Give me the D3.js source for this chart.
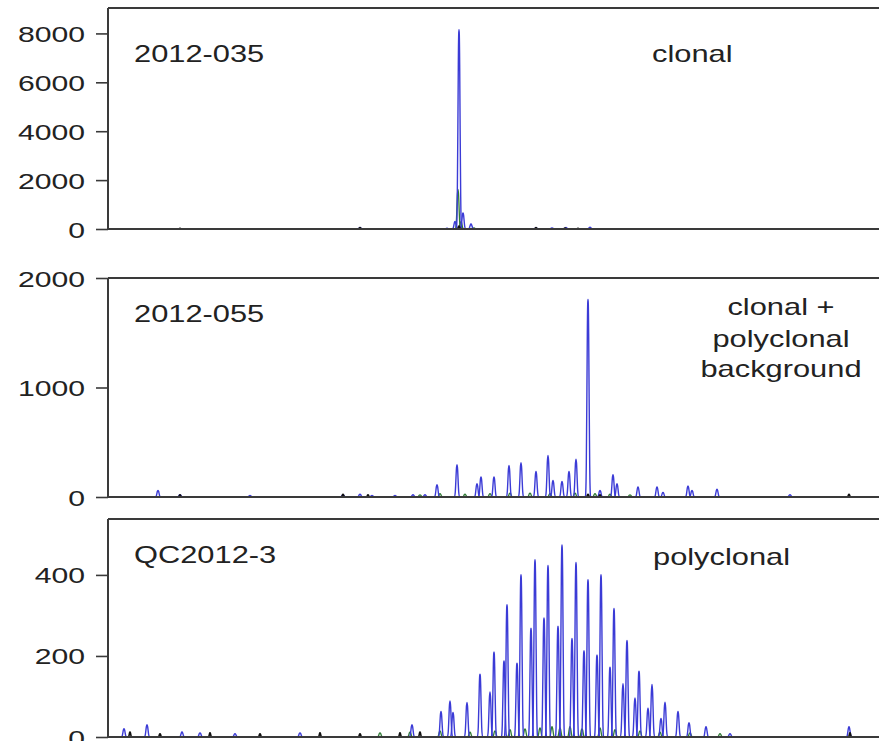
<!DOCTYPE html>
<html><head><meta charset="utf-8">
<script src="https://cdn.jsdelivr.net/npm/d3@7"></script>
<style>body{margin:0;background:#fff}svg{display:block}</style>
</head><body><svg id="chart" width="879" height="741"></svg>
<script>
// ---------- DATA ----------
const xDomain = [0, 771];                       // fragment position (arbitrary scan units)
const panelNames = ["2012-035", "2012-055", "QC2012-3"];
const panelNotes = [["clonal"], ["clonal +", "polyclonal", "background"], ["polyclonal"]];
const yMax = [9040, 2000, 538];
const yTicks = [[0, 2000, 4000, 6000, 8000], [0, 1000, 2000], [0, 200, 400]];

// peaks: [position, height] per dye channel
const blue1 = [[252,60],[339,30],[347,300],[351,8050],[355,650],[363,200],[428,50],[444,40],[458,60],[482,70]];
const green1 = [[350,1600],[353,300],[366,40]];
const black1 = [[72,30],[252,60],[351,120],[428,60],[457,40],[470,30]];

const blue2 = [[50,60],[72,20],[142,15],[235,20],[252,25],[264,15],[287,15],[305,20],[317,20],[329,110],
  [349,290],[369,120],[373,180],[386,180],[401,285],[413,310],[428,230],[440,375],[445,150],[454,140],
  [461,230],[468,340],[480,1780],[492,60],[505,200],[509,120],[530,90],[549,90],[555,40],[580,100],
  [584,60],[609,70],[682,20]];
const green2 = [[312,20],[332,30],[357,25],[382,30],[402,35],[422,35],[442,30],[467,35],[487,30],[502,25],[522,20]];
const black2 = [[72,20],[235,25],[260,20],[480,25],[492,20],[741,25]];

const blue3 = [[16,20],[39,30],[74,12],[92,10],[127,8],[192,10],[304,30],[333,62],[342,88],[345,60],
  [359,84],[372,153],[382,110],[386,207],[396,185],[399,322],[409,180],[413,395],[423,265],[427,432],
  [436,290],[440,418],[450,270],[454,468],[464,240],[468,425],[476,210],[480,383],[489,200],[493,395],
  [502,170],[506,313],[515,130],[519,235],[527,95],[531,160],[540,70],[544,128],[553,45],[557,85],
  [570,62],[581,35],[598,25],[622,8],[741,25]];
const green3 = [[272,10],[302,12],[332,15],[362,12],[387,15],[402,18],[417,20],[432,22],[444,25],[452,22],
  [462,25],[474,20],[492,22],[507,18],[532,15],[552,12],[582,10],[612,8]];
const black3 = [[22,12],[52,8],[102,10],[152,8],[212,10],[252,8],[292,10],[312,12],[742,10]];

const blueSeries = [blue1, blue2, blue3];
const greenSeries = [green1, green2, green3];
const blackSeries = [black1, black2, black3];

// ---------- LAYOUT ----------
const left = 108, right = 880;
const tops = [8, 278, 519], bottoms = [229, 497, 737];
const nameBase = [62, 322, 563];
const svg = d3.select("#chart");
const x = d3.scaleLinear().domain(xDomain).range([left, left + 771]);
const font = "'Liberation Sans', Arial, Helvetica, sans-serif";
const axisColor = "#3a3a3a";

function drawPeaks(g, y, peaks, color, width, hw) {
  const line = d3.line().x(d => x(d[0])).y(d => y(d[1])).curve(d3.curveBasis);
  g.selectAll(null).data(peaks).enter().append("path")
    .attr("d", p => line([[p[0] - hw * 1.2, 0], [p[0] - hw * 0.7, 0], [p[0] - hw * 0.25, p[1]], [p[0], p[1] * 1.02],
                          [p[0] + hw * 0.25, p[1]], [p[0] + hw * 0.7, 0], [p[0] + hw * 1.2, 0]]))
    .attr("fill", "none").attr("stroke", color).attr("stroke-width", width)
    .attr("stroke-linejoin", "round");
}

for (let i = 0; i < 3; i++) {
  const y = d3.scaleLinear().domain([0, yMax[i]]).range([bottoms[i], tops[i]]);
  const g = svg.append("g");

  // traces
  drawPeaks(g, y, greenSeries[i], "#2f7a35", 1.3, 2.4);
  drawPeaks(g, y, blueSeries[i], "#3b3bd6", 1.4, 2.4);
  drawPeaks(g, y, blackSeries[i], "#111", 1.6, 1.6);

  // frame: top line, bottom axis line
  g.append("line").attr("x1", left).attr("x2", right).attr("y1", tops[i]).attr("y2", tops[i])
    .attr("stroke", axisColor).attr("stroke-width", 2);
  g.append("line").attr("x1", left).attr("x2", right).attr("y1", bottoms[i]).attr("y2", bottoms[i])
    .attr("stroke", axisColor).attr("stroke-width", 2);

  // y axis
  const ax = g.append("g").attr("transform", `translate(${left},0)`)
    .call(d3.axisLeft(y).tickValues(yTicks[i]).tickSize(12).tickPadding(0).tickFormat(d3.format("d")));
  ax.select(".domain").attr("stroke", axisColor).attr("stroke-width", 2)
    .attr("d", `M0,${tops[i]}V${bottoms[i]}`);
  ax.selectAll(".tick line").attr("stroke", axisColor).attr("stroke-width", 1.6);
  ax.selectAll(".tick text")
    .attr("x", null).attr("dy", null)
    .attr("transform", "translate(-23,8) scale(1.37,1)")
    .attr("font-family", font).attr("font-size", 22).attr("fill", "#222")
    .attr("text-anchor", "end");

  // panel name
  g.append("text").text(panelNames[i])
    .attr("transform", `translate(134,${nameBase[i]}) scale(1.34,1)`)
    .attr("font-family", font).attr("font-size", 23).attr("fill", "#222");
}

// notes
const noteG = svg.append("g").attr("font-family", font).attr("font-size", 23).attr("fill", "#222");
noteG.append("text").text(panelNotes[0][0]).attr("transform", "translate(652,62) scale(1.34,1)");
[315, 347, 377].forEach((b, k) => {
  noteG.append("text").text(panelNotes[1][k]).attr("text-anchor", "middle")
    .attr("transform", `translate(781,${b}) scale(1.34,1)`);
});
noteG.append("text").text(panelNotes[2][0]).attr("transform", "translate(653,565) scale(1.34,1)");
</script></body></html>
